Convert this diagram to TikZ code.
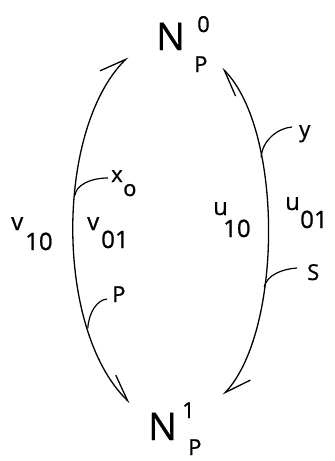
\documentclass[tikz,border=0pt]{standalone}
\usepackage{fontspec}
\setmainfont{Open Sans}[FakeBold=0.8]
\usetikzlibrary{arrows.meta,calc}
\begin{document}
\begin{tikzpicture}[x=1pt,y=-1pt,
  lbl/.style={inner sep=0pt,anchor=base west,font=\fontsize{24}{24}\selectfont},
  small/.style={inner sep=0pt,anchor=base west,font=\fontsize{22}{22}\selectfont},
  big/.style={inner sep=0pt,anchor=base west,font=\fontsize{38}{38}\selectfont},
  curve/.style={line width=1.3pt},
  hb/.tip={Straight Barb[left,length=26pt,width=20pt,line width=1.3pt]},
  tick/.style={line width=1.2pt}]
\useasboundingbox (0,0) rectangle (335,461);
% main nodes
\node[big] (N0) at (156,50) {N};
\node[small] (N0sup) at (197,32) {0};
\node[small] (N0sub) at (194,72) {P};
\node[big] (N1) at (148,440) {N};
\node[small] (N1sup) at (182,418) {1};
\node[small] (N1sub) at (188,455) {P};
% curve end points
\coordinate (Ltop) at (128,57);
\coordinate (Lbot) at (130,403);
\coordinate (Rtop) at (222,68);
\coordinate (Rbot) at (223,395);
% left curve
\draw[curve,{hb}-{hb}] (Lbot) .. controls (55,330) and (55,130) .. coordinate[pos=0.25] (pP) coordinate[pos=0.585] (pX) (Ltop);
% right curve
\draw[curve,{hb}-{hb}] (Rtop) .. controls (283,130) and (283,330) .. coordinate[pos=0.31] (pY) coordinate[pos=0.645] (pS) (Rbot);
% labels
\node[lbl] (v) at (11,230) {v};
\node[lbl] (v10) at (25,250) {10};
\node[lbl] (vb) at (87,230) {v};
\node[lbl] (v01) at (101,248) {01};
\node[lbl] (u) at (213,215) {u};
\node[lbl] (u10) at (223,237) {10};
\node[lbl] (ub) at (285,210) {u};
\node[lbl] (u01) at (300,228) {01};
% tick labels
\node[small] (xl) at (111,182) {x};
\node[small] (xo) at (123,196) {o};
\node[small] (Pl) at (112,302) {P};
\node[small] (yl) at (299,137) {y};
\node[small] (Sl) at (307,280) {S};
\coordinate (xend) at (108,178);
\coordinate (Pend) at (107,299);
\coordinate (yend) at (292,127);
\coordinate (Send) at (297,268);
\draw[tick] (pX) .. controls ($(pX)+(1,-10)$) and (90,178) .. (xend);
\draw[tick] (pP) .. controls ($(pP)+(1,-16)$) and (97,300) .. (Pend);
\draw[tick] (pY) .. controls ($(pY)+(1,-17)$) and (278,128) .. (yend);
\draw[tick] (pS) .. controls ($(pS)+(3,-12)$) and (282,269) .. (Send);
\end{tikzpicture}
\end{document}
